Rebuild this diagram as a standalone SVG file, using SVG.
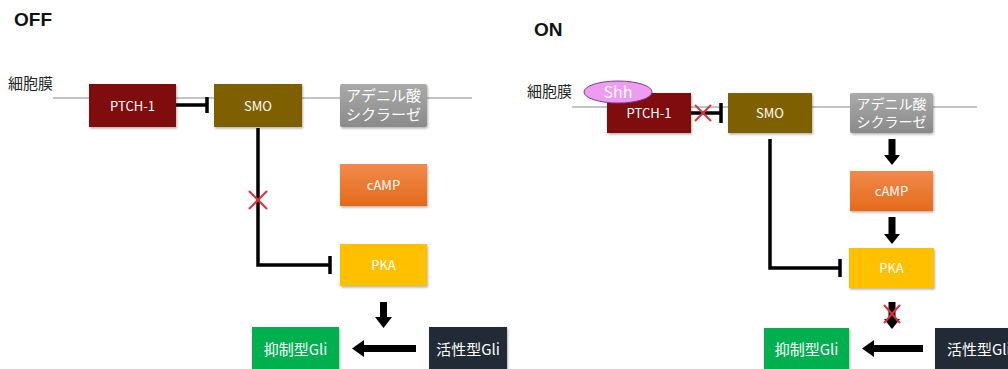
<svg xmlns="http://www.w3.org/2000/svg" width="1008" height="369" viewBox="0 0 1008 369">
<defs>
<linearGradient id="gGray" x1="0" y1="0" x2="0" y2="1"><stop offset="0" stop-color="#aaaaaa"/><stop offset="1" stop-color="#8a8a8a"/></linearGradient>
<linearGradient id="gOrange" x1="0" y1="0" x2="0" y2="1"><stop offset="0" stop-color="#f28a4c"/><stop offset="1" stop-color="#e46a1a"/></linearGradient>
<filter id="sh" x="-10%" y="-10%" width="125%" height="130%"><feDropShadow dx="1" dy="1.5" stdDeviation="1.2" flood-color="#000" flood-opacity="0.3"/></filter>
</defs>
<style>
.t{font-family:"Noto Sans CJK JP","Noto Sans",sans-serif;fill:#fff;text-anchor:middle}
.s{font-size:13px}
.m{font-size:15px}
.m2{font-size:14px}
.lab{font-family:"Noto Sans CJK JP",sans-serif;font-size:15px;fill:#222}
.ttl{font-family:"Liberation Sans",Arial,sans-serif;font-weight:bold;font-size:19px;fill:#111}
.mem{stroke:#888;stroke-width:1;fill:none}
.inh{stroke:#000;stroke-width:3.5;fill:none}
.arr{fill:#000}
.x{stroke:#e0303a;stroke-width:2;fill:none}
.box{filter:url(#sh)}
</style>
<rect width="1008" height="369" fill="#fff"/>
<text class="ttl" x="14" y="26">OFF</text>
<text class="ttl" x="534" y="36">ON</text>
<text class="lab" x="8" y="89">細胞膜</text>
<text class="lab" x="527" y="97">細胞膜</text>
<line class="mem" x1="53" y1="98" x2="472" y2="98"/>
<line class="mem" x1="572" y1="107" x2="977" y2="107"/>

<g id="connectors">
<path class="inh" d="M176 105H207M207 97V113"/>
<path class="inh" d="M258 128V265H330M330 256V274"/>
<path class="x" d="M249 191L267 209M267 191L249 209"/>
<polygon class="arr" points="380,302 387,302 387,317 392,317 383.5,328 375,317 380,317"/>
<polygon class="arr" points="416,345 364,345 364,340 352,348.5 364,357 364,352 416,352"/>
<path class="inh" d="M691 113H721M721 103V123"/>
<path class="x" d="M695 105L711 121M711 105L695 121"/>
<path class="inh" d="M770 139V268H840M840 259V277"/>
<polygon class="arr" points="888.5,139 895.5,139 895.5,155 900,155 892,165 884,155 888.5,155"/>
<polygon class="arr" points="888.5,217 895.5,217 895.5,234 900,234 892,244 884,234 888.5,234"/>
<polygon class="arr" points="888.5,302 895.5,302 895.5,319 900,319 892,329 884,319 888.5,319"/>
<path class="x" d="M884 305L900 323M900 305L884 323"/>
<polygon class="arr" points="923,345 874,345 874,340 862,348.5 874,357 874,352 923,352"/>
</g>

<g id="off-ptch1"><rect class="box" x="89" y="84" width="87" height="43" fill="#7f1111"/><text class="t s" x="132.5" y="111">PTCH-1</text></g>
<g id="off-smo"><rect class="box" x="214" y="84" width="88" height="43" fill="#7f6000"/><text class="t s" x="258" y="111">SMO</text></g>
<g id="off-ac"><rect class="box" x="340" y="84" width="87" height="43" rx="2" fill="url(#gGray)"/><text class="t m" x="383.5" y="101">アデニル酸</text><text class="t m" x="383.5" y="120">シクラーゼ</text></g>
<g id="off-camp"><rect class="box" x="340" y="164" width="87" height="42" fill="url(#gOrange)"/><text class="t s" x="383.5" y="190">cAMP</text></g>
<g id="off-pka"><rect class="box" x="340" y="244" width="87" height="42" fill="#ffc000"/><text class="t s" x="383.5" y="270">PKA</text></g>
<g id="off-rgli"><rect class="box" x="252" y="327" width="87" height="42" fill="#00b050"/><text class="t m" x="295.5" y="355">抑制型Gli</text></g>
<g id="off-agli"><rect class="box" x="429" y="327" width="78" height="42" fill="#222a35"/><text class="t m" x="468" y="355">活性型Gli</text></g>

<g id="on-ptch1"><rect class="box" x="607" y="93" width="84" height="40" fill="#7f1111"/><text class="t s" x="649" y="118">PTCH-1</text></g>
<g id="on-shh"><ellipse cx="618" cy="92" rx="34" ry="11" fill="#ee9cf0" stroke="#7a3d9a" stroke-width="1"/><text class="t" x="618" y="98" font-size="16">Shh</text></g>
<g id="on-smo"><rect class="box" x="728" y="93" width="84" height="40" fill="#7f6000"/><text class="t s" x="770" y="118">SMO</text></g>
<g id="on-ac"><rect class="box" x="850" y="93" width="83" height="40" rx="2" fill="url(#gGray)"/><text class="t m2" x="891.5" y="109">アデニル酸</text><text class="t m2" x="891.5" y="127">シクラーゼ</text></g>
<g id="on-camp"><rect class="box" x="850" y="171" width="83" height="40" fill="url(#gOrange)"/><text class="t s" x="891.5" y="196">cAMP</text></g>
<g id="on-pka"><rect class="box" x="849" y="248" width="85" height="40" fill="#ffc000"/><text class="t s" x="891.5" y="273">PKA</text></g>
<g id="on-rgli"><rect class="box" x="764" y="328" width="85" height="41" fill="#00b050"/><text class="t m" x="806.5" y="355">抑制型Gli</text></g>
<g id="on-agli"><rect class="box" x="935" y="328" width="80" height="41" fill="#222a35"/><text class="t m" x="947" y="355" style="text-anchor:start">活性型Gli</text></g>
</svg>
